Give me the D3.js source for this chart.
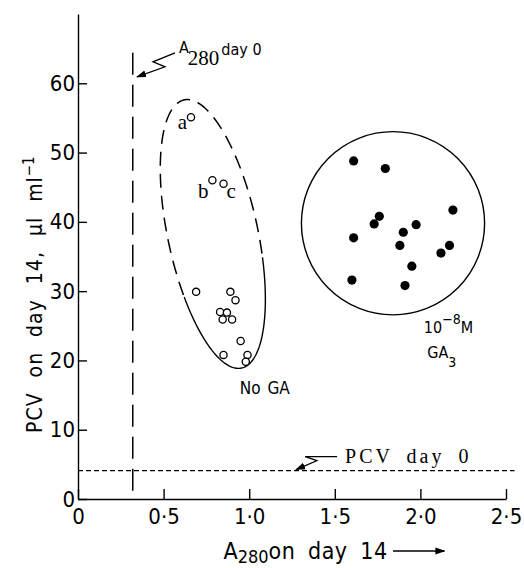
<!DOCTYPE html>
<meta charset="utf-8">
<script src="https://d3js.org/d3.v7.min.js"></script>
<style>
  body { margin: 0; background: #fff; }
  text { fill: #000; }
</style>
<div id="chart"></div>
<script>
// ---- data ----
// open circles: no GA
var noGaX = [0.66, 0.785, 0.85, 0.69, 0.89, 0.92, 0.83, 0.87, 0.845, 0.90, 0.95, 0.85, 0.99, 0.98];
var noGaY = [55.1, 46.0, 45.5, 29.9, 29.9, 28.7, 27.0, 26.9, 25.9, 25.9, 22.8, 20.8, 20.8, 19.8];
var noGaTags = ["a", "b", "c"];   // first three points are labelled

// filled circles: 10^-8 M GA3
var gaX = [1.61, 1.795, 2.19, 1.76, 1.73, 1.975, 1.90, 1.61, 1.88, 2.17, 2.12, 1.95, 1.60, 1.91];
var gaY = [48.8, 47.7, 41.7, 40.8, 39.7, 39.6, 38.5, 37.7, 36.6, 36.6, 35.5, 33.6, 31.6, 30.8];

var xTicks = [0, 0.5, 1.0, 1.5, 2.0, 2.5];
var yTicks = [0, 10, 20, 30, 40, 50, 60];

var a280Day0 = 0.32;   // vertical reference line
var pcvDay0 = 4.1;     // horizontal reference line

// outlines drawn round the groups (data units)
var noGaTop = [0.62, 57.6], noGaBottom = [0.955, 18.9], noGaHalfWidth = 0.263;
var gaCentre = [1.84, 39.8], gaRadius = 0.535;

// ---- layout ----
var margin = {top: 14, right: 18, bottom: 69, left: 78},
    width = 524 - margin.left - margin.right,
    height = 568 - margin.top - margin.bottom;

var sans = "'Liberation Sans Narrow', 'DejaVu Sans Condensed', sans-serif";
var serif = "'Liberation Serif', 'DejaVu Serif', serif";

var svg = d3.select("#chart")
  .append("svg")
    .attr("width", width + margin.left + margin.right)
    .attr("height", height + margin.top + margin.bottom)
  .append("g")
    .attr("transform", "translate(" + margin.left + "," + margin.top + ")");

var x = d3.scaleLinear().domain([0, 2.5]).range([0, width]);
var y = d3.scaleLinear().domain([0, 70]).range([height, 0]);

var fmt = function(d) { return d === 0 ? "0" : d3.format(".1f")(d).replace(".", "\u00b7"); };

// arrow head marker
svg.append("defs").append("marker")
    .attr("id", "head")
    .attr("viewBox", "0 -4 10 8")
    .attr("refX", 9).attr("refY", 0)
    .attr("markerWidth", 10).attr("markerHeight", 8)
    .attr("markerUnits", "userSpaceOnUse")
    .attr("orient", "auto")
  .append("path").attr("d", "M0,-3.5L10,0L0,3.5Z").attr("fill", "#000");

// X axis
var xg = svg.append("g")
    .attr("transform", "translate(0," + height + ")")
    .call(d3.axisBottom(x).tickValues(xTicks).tickFormat(fmt).tickSize(-10).tickSizeOuter(0).tickPadding(9));

// Y axis
var yg = svg.append("g")
    .call(d3.axisLeft(y).tickValues(yTicks).tickSize(-9).tickSizeOuter(0).tickPadding(3));

[xg, yg].forEach(function(g) {
  g.attr("font-family", sans).attr("font-size", 22);
  g.selectAll("path, line").attr("stroke", "#000").attr("stroke-width", 1.4);
});

// axis titles
var xt = svg.append("text")
    .attr("x", x(0.85)).attr("y", height + 60)
    .attr("font-family", sans).attr("font-size", 23)
    .attr("word-spacing", 6);
xt.append("tspan").text("A");
xt.append("tspan").attr("dy", 4).attr("font-size", 18).text("280");
xt.append("tspan").attr("dy", -4).attr("letter-spacing", 0.4).text("on day 14");

svg.append("line")
    .attr("x1", x(1.84)).attr("x2", x(2.14))
    .attr("y1", height + 52).attr("y2", height + 52)
    .attr("stroke", "#000").attr("stroke-width", 1.4)
    .attr("marker-end", "url(#head)");

var yt = svg.append("text")
    .attr("transform", "translate(" + (-36) + "," + y(29.5) + ") rotate(-90)")
    .attr("text-anchor", "middle")
    .attr("font-family", sans).attr("font-size", 21)
    .attr("letter-spacing", 1).attr("word-spacing", 8);
yt.append("tspan").text("PCV on day 14, \u03bcl ml");
yt.append("tspan").attr("dy", -8).attr("font-size", 15).attr("letter-spacing", 0).text("\u22121");

// reference lines
svg.append("line")
    .attr("x1", x(a280Day0)).attr("x2", x(a280Day0))
    .attr("y1", y(64.4)).attr("y2", y(0))
    .attr("stroke", "#000").attr("stroke-width", 1.5)
    .attr("stroke-dasharray", "22,10");

svg.append("line")
    .attr("x1", x(0)).attr("x2", x(2.55))
    .attr("y1", y(pcvDay0)).attr("y2", y(pcvDay0))
    .attr("stroke", "#000").attr("stroke-width", 1.3)
    .attr("stroke-dasharray", "5,3");

// outline round the no-GA points: dashed top, solid bottom
var p1 = [x(noGaTop[0]), y(noGaTop[1])], p2 = [x(noGaBottom[0]), y(noGaBottom[1])];
var cx = (p1[0] + p2[0]) / 2, cy = (p1[1] + p2[1]) / 2;
var semiA = Math.hypot(p2[0] - p1[0], p2[1] - p1[1]) / 2;
var semiB = x(noGaHalfWidth) - x(0);
var rot = Math.atan2(p2[0] - p1[0], p2[1] - p1[1]);   // lean of the long axis
function ellPoint(deg) {
  var t = deg * Math.PI / 180,
      lx = semiB * Math.cos(t), ly = semiA * Math.sin(t);
  return [cx + lx * Math.cos(rot) + ly * Math.sin(rot),
          cy - lx * Math.sin(rot) + ly * Math.cos(rot)];
}
var line = d3.line();
svg.append("path")
    .attr("d", line(d3.range(14, 158, 2).map(ellPoint)))
    .attr("fill", "none").attr("stroke", "#000").attr("stroke-width", 1.4);
svg.append("path")
    .attr("d", line(d3.range(157, 375, 2).map(ellPoint)))
    .attr("fill", "none").attr("stroke", "#000").attr("stroke-width", 1.5)
    .attr("stroke-dasharray", "14,8");

// circle round GA3 points
svg.append("circle")
    .attr("cx", x(gaCentre[0])).attr("cy", y(gaCentre[1]))
    .attr("r", x(gaRadius) - x(0))
    .attr("fill", "none").attr("stroke", "#000").attr("stroke-width", 1.4);

// points
svg.selectAll(".open")
  .data(noGaX)
  .enter().append("circle")
    .attr("cx", function(d) { return x(d); })
    .attr("cy", function(d, i) { return y(noGaY[i]); })
    .attr("r", 3.6)
    .attr("fill", "#fff").attr("stroke", "#000").attr("stroke-width", 1.3);

svg.selectAll(".filled")
  .data(gaX)
  .enter().append("circle")
    .attr("cx", function(d) { return x(d); })
    .attr("cy", function(d, i) { return y(gaY[i]); })
    .attr("r", 4.6)
    .attr("fill", "#000");

// a, b, c tags
var tagOffsets = [[-4, 12], [-4, 18], [3, 14]];
svg.selectAll(".tag")
  .data(noGaTags)
  .enter().append("text")
    .attr("x", function(d, i) { return x(noGaX[i]) + tagOffsets[i][0]; })
    .attr("y", function(d, i) { return y(noGaY[i]) + tagOffsets[i][1]; })
    .attr("text-anchor", function(d, i) { return i === 2 ? "start" : "end"; })
    .attr("font-family", serif).attr("font-size", 21)
    .text(function(d) { return d; });

// group labels
svg.append("text")
    .attr("x", x(0.945)).attr("y", y(15.2))
    .attr("font-family", sans).attr("font-size", 17)
    .attr("word-spacing", 2)
    .text("No GA");

var g1 = svg.append("text")
    .attr("x", x(2.02)).attr("y", y(23.9))
    .attr("font-family", sans).attr("font-size", 16);
g1.append("tspan").text("10");
g1.append("tspan").attr("dy", -9).attr("font-size", 14).text("\u22128");
g1.append("tspan").attr("dy", 9).text("M");

var g2 = svg.append("text")
    .attr("x", x(2.04)).attr("y", y(20.4))
    .attr("font-family", sans).attr("font-size", 16);
g2.append("tspan").text("GA");
g2.append("tspan").attr("dy", 9).attr("font-size", 14).text("3");

// "A280 day 0" note with zigzag leader
var ax = x(0.59), ay = y(64.4);
var an = svg.append("text")
    .attr("x", ax).attr("y", ay)
    .attr("font-family", sans).attr("font-size", 16);
an.append("tspan").text("A");
an.append("tspan").attr("dy", 12).attr("font-family", serif).attr("font-size", 21).attr("dx", -1).text("280");
an.append("tspan").attr("dy", -10).attr("dx", 2).text("day 0");

svg.append("path")
    .attr("d", line([[ax - 4, ay], [ax - 26, ay + 9], [ax - 14, ay + 14], [ax - 42, ay + 24]]))
    .attr("fill", "none").attr("stroke", "#000").attr("stroke-width", 1.3)
    .attr("marker-end", "url(#head)");

// "PCV day 0" note with zigzag leader
var px = x(1.56), py = y(pcvDay0) - 13;
svg.append("text")
    .attr("x", px).attr("y", py + 5)
    .attr("font-family", serif).attr("font-size", 20)
    .attr("letter-spacing", 3).attr("word-spacing", 6)
    .text("PCV day 0");

svg.append("path")
    .attr("d", line([[px - 8, py - 1], [px - 40, py - 1], [px - 28, py + 3], [px - 49, py + 12]]))
    .attr("fill", "none").attr("stroke", "#000").attr("stroke-width", 1.2)
    .attr("marker-end", "url(#head)");
</script>
